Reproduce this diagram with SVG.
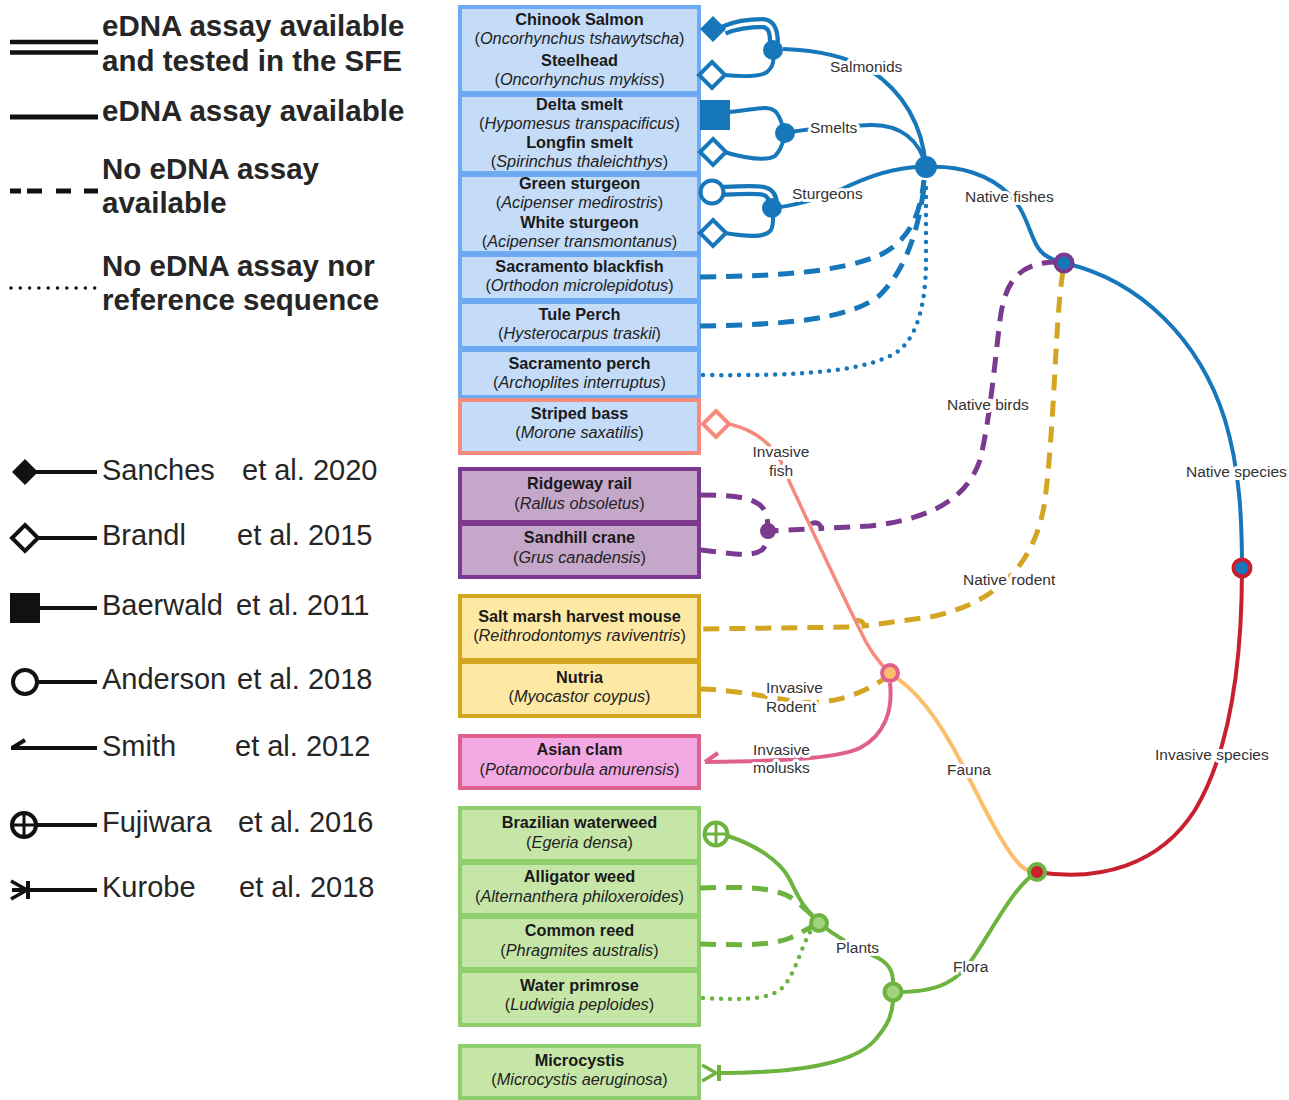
<svg xmlns="http://www.w3.org/2000/svg" width="1289" height="1100" viewBox="0 0 1289 1100">
<style>
.lgb{font-family:"Liberation Sans",Arial,sans-serif;font-weight:bold;font-size:29.5px;fill:#262626}
.lg{font-family:"Liberation Sans",Arial,sans-serif;font-size:29px;fill:#262626}
.nm{font-family:"Liberation Sans",Arial,sans-serif;font-weight:bold;font-size:16.3px;fill:#1a1a1a;text-anchor:middle}
.sci{font-family:"Liberation Sans",Arial,sans-serif;font-size:16.3px;fill:#222;text-anchor:middle}
.sci tspan{font-style:italic}
.lab{font-family:"Liberation Sans",Arial,sans-serif;font-size:15.5px;fill:#333;stroke:#fff;stroke-width:6;paint-order:stroke;stroke-linejoin:round}
.c{fill:none;stroke-width:4}
.dash{stroke-width:5;stroke-dasharray:16 10}
.dot{stroke-width:4.5;stroke-dasharray:0 9;stroke-linecap:round}
.blue{stroke:#1777bb}.purple{stroke:#7b3a8f}.gold{stroke:#d4a520}.salmon{stroke:#f58b7c}.pink{stroke:#e0608c}.orange{stroke:#fbbf6b}.red{stroke:#c8202f}.green{stroke:#6db33f}
.bfish{fill:#c4dcf8;stroke:#6eaaf2;stroke-width:4}
.bbird{fill:#c5a7c9;stroke:#7b3a8f;stroke-width:4}
.brod{fill:#fde9a4;stroke:#d4a520;stroke-width:4}
.bclam{fill:#f2a9e3;stroke:#e0608c;stroke-width:4}
.bplant{fill:#c6e6a8;stroke:#8fce6c;stroke-width:4}
.mk{stroke:#111;stroke-width:4;fill:none}
</style>
<defs>
<path id="dia" d="M0 -13 L13 0 L0 13 L-13 0 Z"/>
</defs>
<rect width="1289" height="1100" fill="#fff"/>

<!-- Legend -->
<g id="legend">
<line x1="10" y1="42" x2="98" y2="42" class="mk" style="stroke-width:4.5"/>
<line x1="10" y1="52.5" x2="98" y2="52.5" class="mk" style="stroke-width:4.5"/>
<text x="102" y="36" class="lgb">eDNA assay available</text>
<text x="102" y="71" class="lgb">and tested in the SFE</text>
<line x1="10" y1="117" x2="98" y2="117" class="mk" style="stroke-width:5"/>
<text x="102" y="121" class="lgb">eDNA assay available</text>
<line x1="10" y1="191" x2="98" y2="191" class="mk" style="stroke-width:5;stroke-dasharray:11 6 15 14 15 13 15 12 8"/>
<text x="102" y="179" class="lgb">No eDNA assay</text>
<text x="102" y="213" class="lgb">available</text>
<line x1="11" y1="288" x2="98" y2="288" class="mk" style="stroke-width:3.5;stroke-dasharray:0 9.3;stroke-linecap:round"/>
<text x="102" y="276" class="lgb">No eDNA assay nor</text>
<text x="102" y="310" class="lgb">reference sequence</text>

<use href="#dia" x="25" y="472" fill="#111"/>
<line x1="36" y1="472" x2="97" y2="472" class="mk"/>
<text x="102" y="480" class="lg">Sanches</text><text x="242" y="480" class="lg">et al. 2020</text>

<use href="#dia" x="25" y="538" fill="#fff" stroke="#111" stroke-width="4"/>
<line x1="38" y1="538" x2="97" y2="538" class="mk"/>
<text x="102" y="545" class="lg">Brandl</text><text x="237" y="545" class="lg">et al. 2015</text>

<rect x="10" y="593" width="30" height="30" fill="#111"/>
<line x1="38" y1="608" x2="97" y2="608" class="mk"/>
<text x="102" y="615" class="lg">Baerwald</text><text x="236" y="615" class="lg">et al. 2011</text>

<circle cx="25" cy="682" r="12" fill="#fff" stroke="#111" stroke-width="4"/>
<line x1="37" y1="682" x2="97" y2="682" class="mk"/>
<text x="102" y="689" class="lg">Anderson</text><text x="237" y="689" class="lg">et al. 2018</text>

<line x1="11" y1="748" x2="97" y2="748" class="mk"/>
<line x1="12" y1="748" x2="25" y2="740" class="mk"/>
<text x="102" y="756" class="lg">Smith</text><text x="235" y="756" class="lg">et al. 2012</text>

<circle cx="24" cy="825" r="12" fill="#fff" stroke="#111" stroke-width="4"/>
<line x1="12" y1="825" x2="36" y2="825" class="mk" style="stroke-width:3"/>
<line x1="24" y1="813" x2="24" y2="837" class="mk" style="stroke-width:3"/>
<line x1="36" y1="825" x2="97" y2="825" class="mk"/>
<text x="102" y="832" class="lg">Fujiwara</text><text x="238" y="832" class="lg">et al. 2016</text>

<polyline points="11,881 27,890 11,899" class="mk" style="stroke-width:3.5"/>
<line x1="28" y1="881" x2="28" y2="899" class="mk"/>
<line x1="12" y1="890" x2="97" y2="890" class="mk"/>
<text x="102" y="897" class="lg">Kurobe</text><text x="239" y="897" class="lg">et al. 2018</text>
</g>

<!-- Species nodes -->
<g id="node-salmonids"><rect x="460" y="7" width="239" height="86" class="bfish"/>
<text x="579.5" y="25" class="nm">Chinook Salmon</text><text x="579.5" y="44" class="sci">(<tspan>Oncorhynchus tshawytscha</tspan>)</text>
<text x="579.5" y="66" class="nm">Steelhead</text><text x="579.5" y="85" class="sci">(<tspan>Oncorhynchus mykiss</tspan>)</text></g>
<g id="node-smelts"><rect x="460" y="95" width="239" height="78" class="bfish"/>
<text x="579.5" y="110" class="nm">Delta smelt</text><text x="579.5" y="129" class="sci">(<tspan>Hypomesus transpacificus</tspan>)</text>
<text x="579.5" y="148" class="nm">Longfin smelt</text><text x="579.5" y="167" class="sci">(<tspan>Spirinchus thaleichthys</tspan>)</text></g>
<g id="node-sturgeons"><rect x="460" y="175" width="239" height="78" class="bfish"/>
<text x="579.5" y="189" class="nm">Green sturgeon</text><text x="579.5" y="208" class="sci">(<tspan>Acipenser medirostris</tspan>)</text>
<text x="579.5" y="228" class="nm">White sturgeon</text><text x="579.5" y="247" class="sci">(<tspan>Acipenser transmontanus</tspan>)</text></g>
<g id="node-blackfish"><rect x="460" y="255" width="239" height="45" class="bfish"/>
<text x="579.5" y="272" class="nm">Sacramento blackfish</text><text x="579.5" y="291" class="sci">(<tspan>Orthodon microlepidotus</tspan>)</text></g>
<g id="node-tuleperch"><rect x="460" y="302" width="239" height="46" class="bfish"/>
<text x="579.5" y="320" class="nm">Tule Perch</text><text x="579.5" y="339" class="sci">(<tspan>Hysterocarpus traskii</tspan>)</text></g>
<g id="node-sacperch"><rect x="460" y="350" width="239" height="47" class="bfish"/>
<text x="579.5" y="369" class="nm">Sacramento perch</text><text x="579.5" y="388" class="sci">(<tspan>Archoplites interruptus</tspan>)</text></g>
<g id="node-stripedbass"><rect x="460" y="400" width="239" height="53" class="bfish" style="stroke:#f58b7c"/>
<text x="579.5" y="419" class="nm">Striped bass</text><text x="579.5" y="438" class="sci">(<tspan>Morone saxatilis</tspan>)</text></g>
<g id="node-ridgewayrail"><rect x="460" y="469" width="239" height="53" class="bbird"/>
<text x="579.5" y="489" class="nm">Ridgeway rail</text><text x="579.5" y="509" class="sci">(<tspan>Rallus obsoletus</tspan>)</text></g>
<g id="node-sandhillcrane"><rect x="460" y="524" width="239" height="53" class="bbird"/>
<text x="579.5" y="543" class="nm">Sandhill crane</text><text x="579.5" y="563" class="sci">(<tspan>Grus canadensis</tspan>)</text></g>
<g id="node-saltmarsh"><rect x="460" y="596" width="239" height="64" class="brod"/>
<text x="579.5" y="622" class="nm">Salt marsh harvest mouse</text><text x="579.5" y="641" class="sci">(<tspan>Reithrodontomys raviventris</tspan>)</text></g>
<g id="node-nutria"><rect x="460" y="662" width="239" height="54" class="brod"/>
<text x="579.5" y="683" class="nm">Nutria</text><text x="579.5" y="702" class="sci">(<tspan>Myocastor coypus</tspan>)</text></g>
<g id="node-asianclam"><rect x="460" y="736" width="239" height="52" class="bclam"/>
<text x="579.5" y="755" class="nm">Asian clam</text><text x="579.5" y="775" class="sci">(<tspan>Potamocorbula amurensis</tspan>)</text></g>
<g id="node-waterweed"><rect x="460" y="808" width="239" height="53" class="bplant"/>
<text x="579.5" y="828" class="nm">Brazilian waterweed</text><text x="579.5" y="848" class="sci">(<tspan>Egeria densa</tspan>)</text></g>
<g id="node-alligatorweed"><rect x="460" y="863" width="239" height="52" class="bplant"/>
<text x="579.5" y="882" class="nm">Alligator weed</text><text x="579.5" y="902" class="sci">(<tspan>Alternanthera philoxeroides</tspan>)</text></g>
<g id="node-commonreed"><rect x="460" y="917" width="239" height="52" class="bplant"/>
<text x="579.5" y="936" class="nm">Common reed</text><text x="579.5" y="956" class="sci">(<tspan>Phragmites australis</tspan>)</text></g>
<g id="node-waterprimrose"><rect x="460" y="971" width="239" height="54" class="bplant"/>
<text x="579.5" y="991" class="nm">Water primrose</text><text x="579.5" y="1010" class="sci">(<tspan>Ludwigia peploides</tspan>)</text></g>
<g id="node-microcystis"><rect x="460" y="1046" width="239" height="52" class="bplant"/>
<text x="579.5" y="1066" class="nm">Microcystis</text><text x="579.5" y="1085" class="sci">(<tspan>Microcystis aeruginosa</tspan>)</text></g>

<!-- Connectors -->
<g id="connectors">
<!-- salmonids -->
<path d="M724 30 C738 24 752 23 763 23 C772 24 774 32 774 44" class="c blue" style="stroke-width:12"/>
<path d="M724 30 C738 24 752 23 763 23 C772 24 774 32 774 44" class="c" style="stroke:#fff;stroke-width:3.5"/>
<path d="M724 75 C745 77 760 77 767 72 C773 67 774 60 773 55" class="c blue"/>
<path d="M783 49 C810 50 845 55 870 70 C900 90 922 120 926 167" class="c blue"/>
<!-- smelts -->
<path d="M730 112 C755 110 768 104 776 112 C781 118 782 125 784 130" class="c blue"/>
<path d="M724 152 C745 158 765 162 775 156 C781 150 783 142 784 138" class="c blue"/>
<path d="M785 133 C800 130 830 127 870 125 C900 124 920 140 926 167" class="c blue"/>
<!-- sturgeons -->
<path d="M722 191 C740 190 755 189 764 191 C772 193 773 200 773 205" class="c blue" style="stroke-width:12"/>
<path d="M722 191 C740 190 755 189 764 191 C772 193 773 200 773 205" class="c" style="stroke:#fff;stroke-width:3.5"/>
<path d="M725 233 C748 237 765 238 771 230 C774 224 773 216 773 212" class="c blue"/>
<path d="M772 208 C795 206 815 200 840 190 C870 175 900 166 926 167" class="c blue"/>
<!-- other native fishes -->
<path d="M700 277 C780 276 840 272 880 255 C910 240 920 215 924 180" class="c blue dash"/>
<path d="M700 326 C780 325 850 320 880 295 C910 265 920 220 925 180" class="c blue dash"/>
<path d="M703 375 C800 376 870 372 900 350 C922 330 926 290 926 260 L926 181" class="c blue dot"/>
<!-- native fishes to native species -->
<path d="M926 167 C960 165 990 175 1010 195 C1030 215 1030 245 1045 255 C1052 260 1058 261 1064 263" class="c blue"/>
<!-- native species to junction -->
<path d="M1064 263 C1140 280 1200 340 1225 420 C1240 470 1242 520 1242 568" class="c blue"/>
<!-- invasive species -->
<path d="M1242 568 C1242 680 1225 760 1195 810 C1160 865 1100 882 1037 872" class="c red"/>
<!-- native birds -->
<path d="M1058 262 C1020 262 1005 280 1000 320 C995 360 990 420 980 460 C965 505 920 520 870 526 L821 528.5 A6 6 0 0 0 809 529 L768 531" class="c purple dash"/>
<path d="M700 495 C730 495 750 497 760 505 C766 510 768 518 768 531" class="c purple dash"/>
<path d="M700 550 C730 553 750 558 762 550 C767 545 768 538 768 531" class="c purple dash"/>
<!-- native rodent -->
<path d="M1063 271 C1055 320 1055 420 1045 500 C1035 570 990 605 930 617 L864 626 A6 6 0 0 0 852 627 L700 629" class="c gold dash"/>
<!-- invasive fish -->
<path d="M729 424 C755 430 775 445 785 470 L790 483 C805 515 835 580 860 630 C868 648 878 662 890 673" class="c salmon" style="stroke-width:3.5"/>
<!-- invasive rodent -->
<path d="M700 689 C740 690 770 698 800 702 C830 705 860 695 884 679" class="c gold dash"/>
<!-- invasive molusks -->
<path d="M890 683 C893 710 885 735 860 748 C840 757 800 761 705 762" class="c pink"/>
<path d="M705 762 L718 753" class="c pink"/>
<!-- fauna -->
<path d="M890 674 C920 690 945 730 965 770 C985 810 1005 850 1020 865 C1026 871 1032 872 1037 872" class="c orange"/>
<!-- flora -->
<path d="M1037 872 C1015 885 995 925 975 955 C960 980 940 993 893 992" class="c green"/>
<!-- plants -->
<path d="M893 992 C894 975 892 965 878 958 C860 950 840 940 819 923" class="c green"/>
<path d="M728 836 C755 845 780 860 790 880 C798 897 805 910 819 923" class="c green"/>
<path d="M700 888 C740 887 770 886 790 897 C800 903 808 912 815 918" class="c green dash"/>
<path d="M700 944 C740 945 770 946 790 938 C800 934 808 928 815 925" class="c green dash"/>
<path d="M703 998 C740 1000 770 1000 782 988 C795 975 800 950 810 932" class="c green dot"/>
<path d="M718 1073 C780 1073 850 1068 875 1040 C888 1025 892 1015 893 1001" class="c green"/>

<!-- end markers -->
<use href="#dia" x="713" y="29" fill="#1777bb"/>
<use href="#dia" x="712" y="75" fill="#fff" stroke="#1777bb" stroke-width="4"/>
<rect x="700" y="100" width="30" height="30" fill="#1777bb"/>
<use href="#dia" x="713" y="152" fill="#fff" stroke="#1777bb" stroke-width="4"/>
<circle cx="712" cy="192" r="11.5" fill="#fff" stroke="#1777bb" stroke-width="4"/>
<use href="#dia" x="713" y="233" fill="#fff" stroke="#1777bb" stroke-width="4"/>
<use href="#dia" x="716" y="424" fill="#fff" stroke="#f58b7c" stroke-width="4"/>
<circle cx="716" cy="834" r="11.5" fill="#fff" stroke="#6db33f" stroke-width="4"/>
<line x1="704" y1="834" x2="728" y2="834" class="c green" style="stroke-width:3"/>
<line x1="716" y1="822" x2="716" y2="846" class="c green" style="stroke-width:3"/>
<polyline points="702,1065 716,1073 702,1081" class="c green" style="stroke-width:3.5"/>
<line x1="719" y1="1065" x2="719" y2="1081" class="c green"/>

<!-- labels -->
<text x="830" y="72" class="lab">Salmonids</text>
<text x="810" y="133" class="lab">Smelts</text>
<text x="792" y="199" class="lab">Sturgeons</text>
<text x="965" y="202" class="lab">Native fishes</text>
<text x="947" y="410" class="lab">Native birds</text>
<text x="1186" y="477" class="lab">Native species</text>
<text x="781" y="457" class="lab" text-anchor="middle">Invasive</text>
<text x="781" y="476" class="lab" text-anchor="middle">fish</text>
<text x="963" y="585" class="lab">Native rodent</text>
<text x="766" y="693" class="lab">Invasive</text>
<text x="766" y="712" class="lab">Rodent</text>
<text x="753" y="755" class="lab">Invasive</text>
<text x="753" y="773" class="lab">molusks</text>
<text x="947" y="775" class="lab">Fauna</text>
<text x="1155" y="760" class="lab">Invasive species</text>
<text x="836" y="953" class="lab">Plants</text>
<text x="953" y="972" class="lab">Flora</text>
</g>

<!-- Junction nodes -->
<g id="junction-salmonids"><circle cx="773" cy="50" r="10" fill="#1777bb"/></g>
<g id="junction-smelts"><circle cx="785" cy="133" r="10" fill="#1777bb"/></g>
<g id="junction-sturgeons"><circle cx="772" cy="208" r="10" fill="#1777bb"/></g>
<g id="junction-nativefishes"><circle cx="926" cy="167" r="11" fill="#1777bb"/></g>
<g id="junction-native"><circle cx="1064" cy="263" r="8.5" fill="#1777bb" stroke="#7b3a8f" stroke-width="4"/></g>
<g id="junction-species"><circle cx="1242" cy="568" r="8.5" fill="#1777bb" stroke="#c8202f" stroke-width="4"/></g>
<g id="junction-birds"><circle cx="768" cy="531" r="8" fill="#7b3a8f"/></g>
<g id="junction-invasive"><circle cx="890" cy="673" r="8" fill="#fbbf6b" stroke="#e0608c" stroke-width="4"/></g>
<g id="junction-faunaflora"><circle cx="1037" cy="872" r="8" fill="#c8202f" stroke="#6db33f" stroke-width="4"/></g>
<g id="junction-plants"><circle cx="819" cy="923" r="8" fill="#9fd57a" stroke="#6db33f" stroke-width="4"/></g>
<g id="junction-flora"><circle cx="893" cy="992" r="8.5" fill="#9fd57a" stroke="#6db33f" stroke-width="4"/></g>
</svg>
